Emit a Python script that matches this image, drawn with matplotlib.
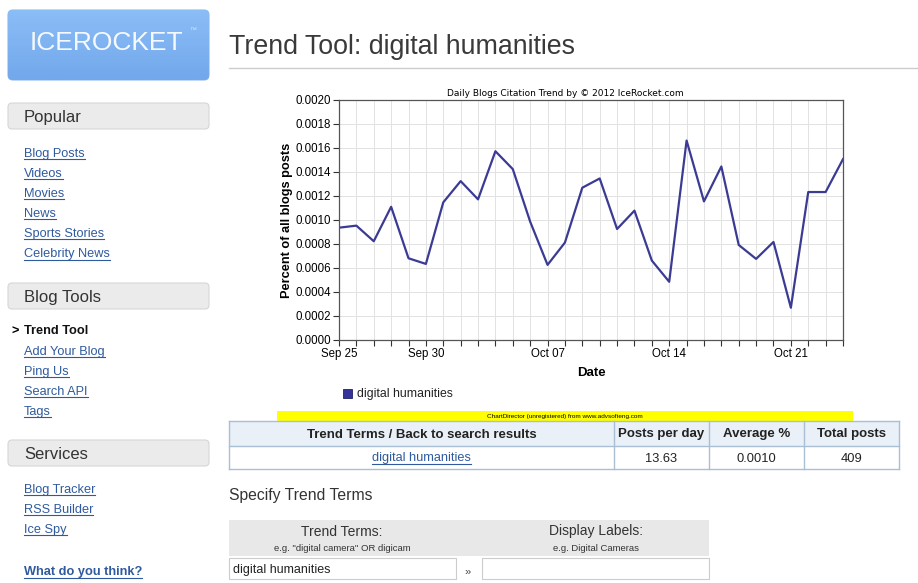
import numpy as np
import matplotlib
matplotlib.use("Agg")
import matplotlib.pyplot as plt
from matplotlib.patches import FancyBboxPatch, Rectangle

plt.rcParams['font.family'] = ['Liberation Sans', 'DejaVu Sans']

# data
dates = np.arange(np.datetime64('2012-09-25'), np.datetime64('2012-10-25'))
share = [0.000936, 0.000953, 0.000823, 0.001110, 0.000681, 0.000634, 0.001147,
         0.001324, 0.001172, 0.001573, 0.001424, 0.000986, 0.000626, 0.000812,
         0.001269, 0.001346, 0.000925, 0.001078, 0.000662, 0.000485, 0.001662,
         0.001155, 0.001446, 0.000792, 0.000676, 0.000817, 0.000269, 0.001233,
         0.001233, 0.001507]
tick_dates = ['2012-09-25', '2012-09-30', '2012-10-07', '2012-10-14', '2012-10-21']
tick_labels = ['Sep 25', 'Sep 30', 'Oct 07', 'Oct 14', 'Oct 21']
term = 'digital humanities'

# table
table_head = ['Trend Terms / Back to search results', 'Posts per day', 'Average %', 'Total posts']
table_row = ['digital humanities', '13.63', '0.0010', '409']

# sidebar
menu = {
    'Popular': ['Blog Posts', 'Videos', 'Movies', 'News', 'Sports Stories', 'Celebrity News'],
    'Blog Tools': ['Trend Tool', 'Add Your Blog', 'Ping Us', 'Search API', 'Tags'],
    'Services': ['Blog Tracker', 'RSS Builder', 'Ice Spy'],
}

W, H = 918, 583
fig = plt.figure(figsize=(W / 100, H / 100), dpi=100)
fig.patch.set_facecolor('white')
bg = fig.add_axes([0, 0, 1, 1])
bg.set_xlim(0, W)
bg.set_ylim(H, 0)
bg.axis('off')

LINK = '#2f5a9e'
renderer = fig.canvas.get_renderer()


def txt(x, y, s, **kw):
    # text is centred on its box incl. descenders, nudge down a bit
    kw.setdefault('va', 'center')
    return bg.text(x, y + 1.5, s, **kw)


def link(x, y, s, size=9.2, ha='left', weight='normal'):
    t = txt(x, y, s, color=LINK, fontsize=size, ha=ha, fontweight=weight)
    bb = t.get_window_extent(renderer)
    bg.plot([bb.x0, bb.x1], [y + size * 0.72, y + size * 0.72], color=LINK, lw=0.8)
    return t


# logo
logo = FancyBboxPatch((8, 10), 201, 70, boxstyle='round,pad=0,rounding_size=5',
                      fc='#7db0f0', ec='#8fbaf0', lw=0.8)
bg.add_patch(logo)
grad = np.linspace(0, 1, 64).reshape(-1, 1)
im = bg.imshow(grad, extent=(8, 209, 80, 10), cmap=matplotlib.colors.LinearSegmentedColormap.from_list(
    'lg', ['#8bbdf6', '#72a8ec']), aspect='auto', zorder=1)
im.set_clip_path(logo)
txt(106, 42, 'ICEROCKET', color='white', fontsize=19, ha='center', zorder=3, alpha=0.93)
txt(193, 29, '™', color='#dde9fb', fontsize=5, ha='center', zorder=3)

# sidebar headers and links
heads = [('Popular', 103, 152), ('Blog Tools', 283, 330), ('Services', 440, 488)]
for name, top, first in heads:
    bg.add_patch(FancyBboxPatch((8, top), 201, 26, boxstyle='round,pad=0,rounding_size=4',
                                fc='#ebebeb', ec='#d6d6d6', lw=0.8))
    txt(24, top + 13, name, color='#333333', fontsize=12)
    for i, item in enumerate(menu[name]):
        y = first + i * 20.2
        if item == 'Trend Tool':
            txt(11, y, '>', fontsize=9.2, fontweight='bold')
            txt(24, y, item, fontsize=9.2, fontweight='bold', color='#111111')
        else:
            link(24, y, item)
link(24, 571, 'What do you think?', weight='bold')

# page title
txt(229, 45, 'Trend Tool: digital humanities', fontsize=19.3, color='#3a3a3a')
bg.plot([229, 918], [68, 68], color='#cccccc', lw=1)

# chart
ax = fig.add_axes([339 / W, 1 - 340 / H, (843 - 339) / W, 240 / H])
ax.plot(dates, share, color='#3b3b94', lw=1.6)
ax.set_xlim(dates[0], dates[-1])
ax.set_ylim(0, 0.002)
ax.set_yticks(np.arange(0, 0.00201, 0.0002))
ax.yaxis.set_major_formatter(matplotlib.ticker.FormatStrFormatter('%.4f'))
ax.set_xticks([np.datetime64(d) for d in tick_dates])
ax.set_xticklabels(tick_labels)
ax.set_xticks(dates, minor=True)
ax.tick_params(which='both', length=4, width=0.8, color='#333333', labelsize=8.3, pad=1.5)
ax.grid(True, which='minor', axis='x', color='#e2e2e2', lw=0.7)
ax.grid(True, which='major', axis='both', color='#e2e2e2', lw=0.7)
for s in ax.spines.values():
    s.set_color('#555555')
    s.set_linewidth(0.9)
ax.set_ylabel('Percent of all blogs posts', fontsize=9.2, fontweight='bold', labelpad=2)
ax.set_xlabel('Date', fontsize=9.5, fontweight='bold', labelpad=5)
txt(565, 92, 'Daily Blogs Citation Trend by © 2012 IceRocket.com', fontsize=6.5,
    family='DejaVu Sans', ha='center')

# legend
bg.add_patch(Rectangle((343, 389), 9, 9, fc='#333399', ec='#222266', lw=0.6))
txt(357, 393, term, fontsize=8.8, color='#222222')

# ChartDirector banner
bg.add_patch(Rectangle((277, 411), 576, 10, fc='#ffff00', ec='none'))
txt(565, 415, 'ChartDirector (unregistered) from www.advsofteng.com', fontsize=4.6, ha='center')

# results table
cols = [229, 614, 709, 804, 899]
bg.add_patch(Rectangle((229, 421), 670, 25, fc='#e9f0f7', ec='none'))
for x in cols:
    bg.plot([x, x], [421, 469], color='#a9bfd6', lw=1)
for y in [421, 446, 469]:
    bg.plot([229, 899], [y, y], color='#a9bfd6', lw=1)
for i, h in enumerate(table_head):
    cx = (cols[i] + cols[i + 1]) / 2
    txt(cx, 433, h, fontsize=9.5, fontweight='bold', ha='center', color='#222222',
        fontstretch='condensed')
    if i == 0:
        link(cx, 457, table_row[i], ha='center')
    else:
        txt(cx, 457, table_row[i], fontsize=9.3, ha='center', color='#222222')

# specify terms form
txt(229, 494, 'Specify Trend Terms', fontsize=11.3, color='#333333')
bg.add_patch(Rectangle((229, 520), 480, 36, fc='#e8e8e8', ec='none'))
txt(342, 530, 'Trend Terms:', fontsize=10, ha='center', color='#333333')
txt(342, 547, 'e.g. "digital camera" OR digicam', fontsize=6.8, ha='center', color='#333333')
txt(596, 530, 'Display Labels:', fontsize=10, ha='center', color='#333333')
txt(596, 547, 'e.g. Digital Cameras', fontsize=6.8, ha='center', color='#333333')
bg.add_patch(Rectangle((229, 558), 227, 21, fc='white', ec='#cccccc', lw=0.8))
bg.add_patch(Rectangle((482, 558), 227, 21, fc='white', ec='#cccccc', lw=0.8))
txt(233, 568, term, fontsize=9, color='#222222')
txt(468, 570, '»', fontsize=8, ha='center', color='#444444')

fig.savefig('out.png', dpi=100)
